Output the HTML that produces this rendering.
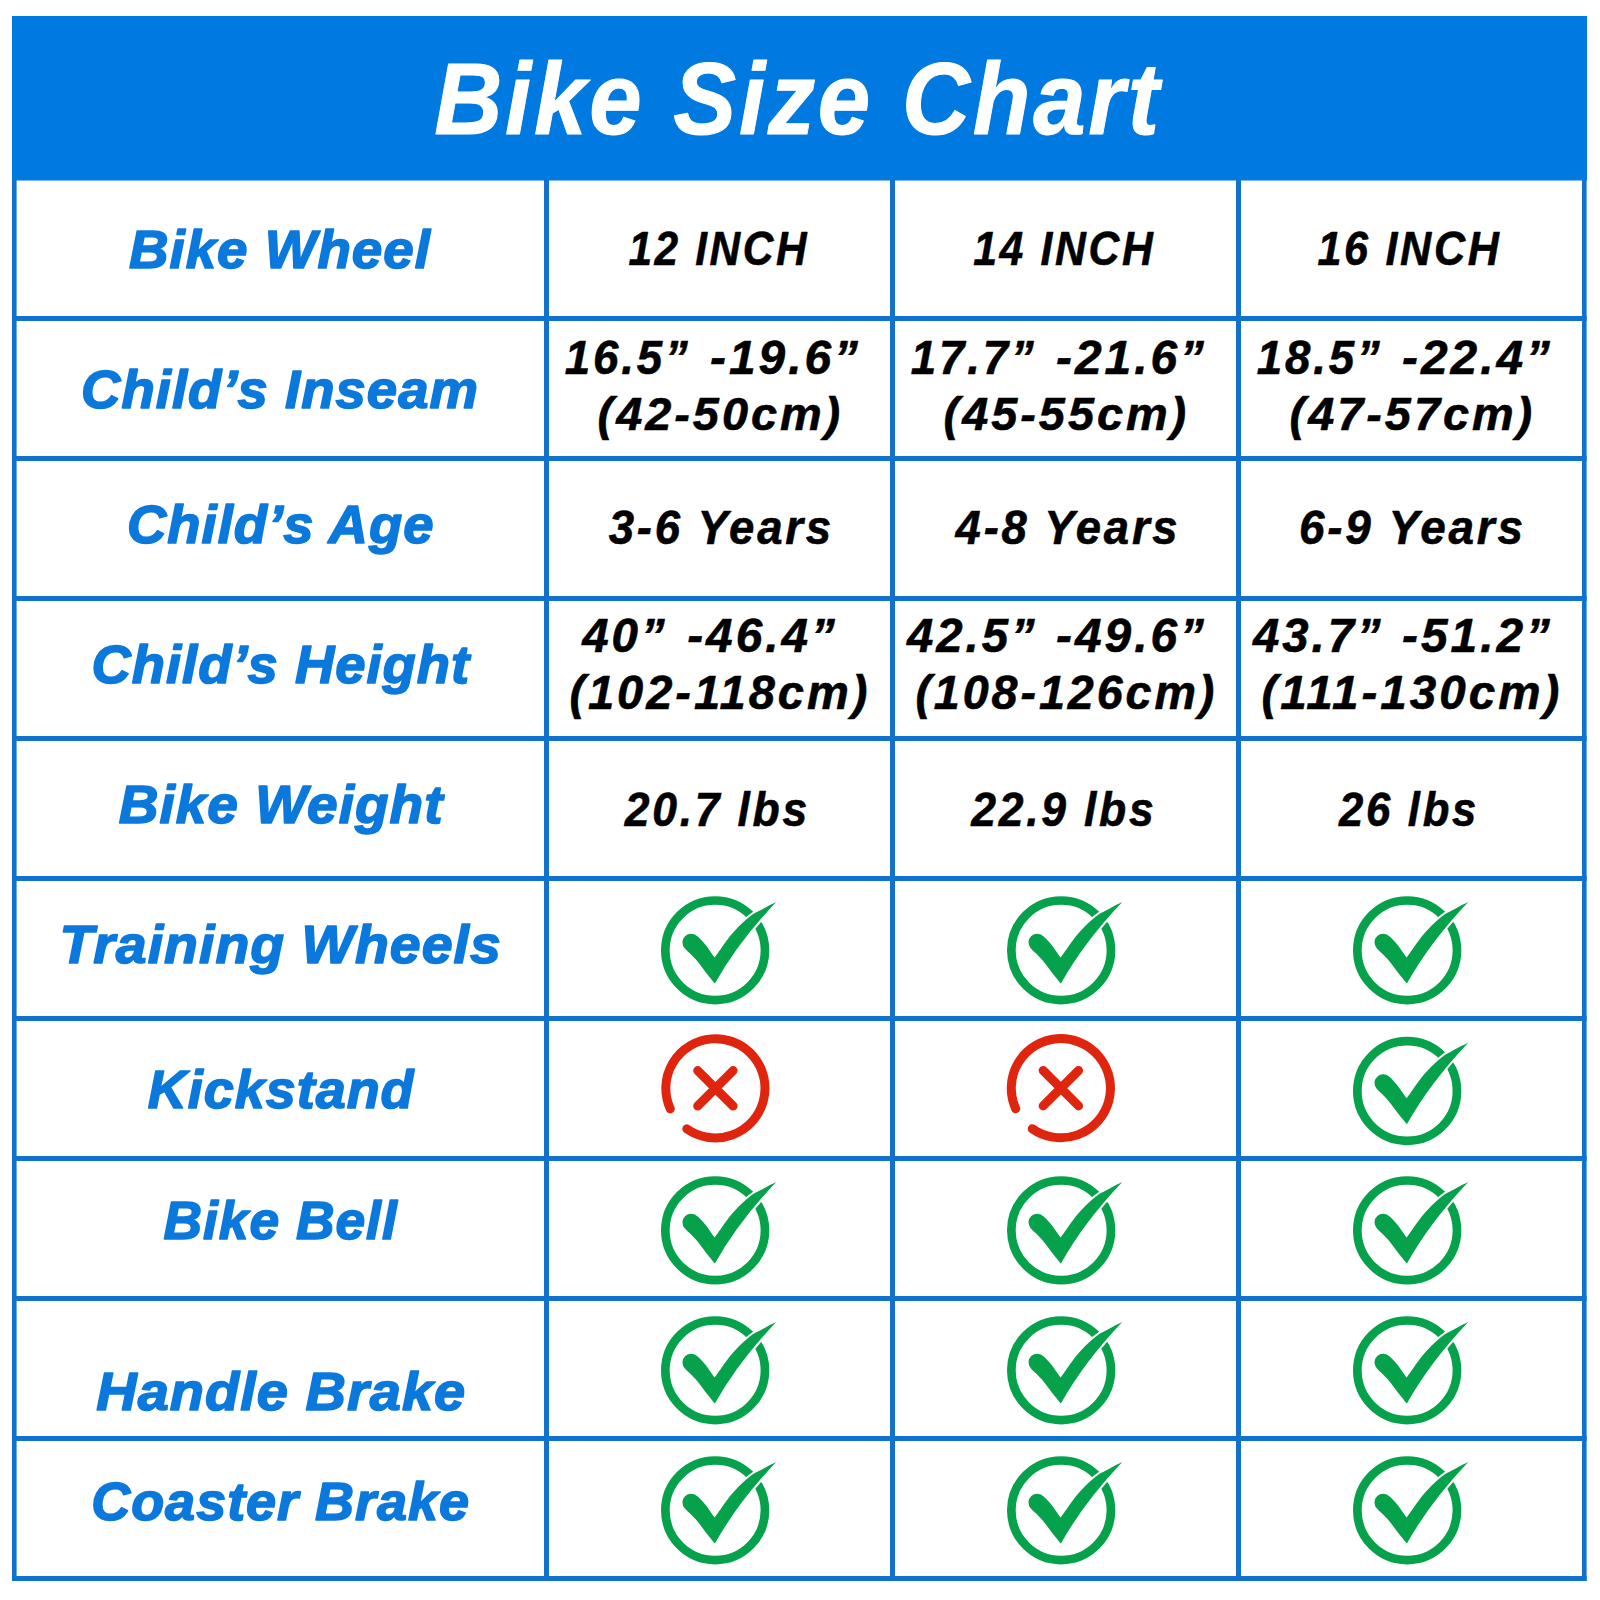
<!DOCTYPE html><html><head><meta charset="utf-8"><title>Bike Size Chart</title>
<style>html,body{margin:0;padding:0;background:#fff;width:1600px;height:1600px;overflow:hidden}svg{display:block}text{font-family:"Liberation Sans",Arial,sans-serif;font-weight:bold;font-style:italic}</style></head><body>
<svg width="1600" height="1600" viewBox="0 0 1600 1600">
<rect width="1600" height="1600" fill="#fff"/>
<rect x="12" y="16" width="1575" height="164.5" fill="#0079e1"/>
<g fill="#1172cd">
<rect x="12" y="180" width="4.6" height="1401"/>
<rect x="544" y="180" width="5" height="1401"/>
<rect x="890" y="180" width="5" height="1401"/>
<rect x="1236" y="180" width="5" height="1401"/>
<rect x="1582" y="180" width="4.6" height="1401"/>
<rect x="12" y="316" width="1574.6" height="5"/>
<rect x="12" y="456" width="1574.6" height="5"/>
<rect x="12" y="596" width="1574.6" height="5"/>
<rect x="12" y="736" width="1574.6" height="5"/>
<rect x="12" y="876" width="1574.6" height="5"/>
<rect x="12" y="1016" width="1574.6" height="5"/>
<rect x="12" y="1156" width="1574.6" height="5"/>
<rect x="12" y="1296" width="1574.6" height="5"/>
<rect x="12" y="1436" width="1574.6" height="5"/>
<rect x="12" y="1576" width="1574.6" height="5"/>
</g>
<g transform="translate(715.15 950.30)">
<circle r="49.8" fill="none" stroke="#06a14b" stroke-width="8.7"/>
<path d="M61.10,-48.30 C59.75,-47.65 55.82,-45.87 53.00,-44.40 C50.18,-42.93 46.75,-40.90 44.20,-39.50 C41.65,-38.10 39.88,-37.45 37.70,-36.00 C35.52,-34.55 33.30,-32.68 31.10,-30.80 C28.90,-28.92 26.68,-26.88 24.50,-24.70 C22.32,-22.52 20.15,-20.18 18.00,-17.70 C15.85,-15.22 13.65,-12.50 11.60,-9.80 C9.55,-7.10 7.71,-4.35 5.70,-1.50 C3.69,1.35 0.58,5.83 -0.45,7.30 C-1.24,6.20 -3.79,2.68 -5.20,0.70 C-6.61,-1.28 -7.65,-2.97 -8.90,-4.60 C-10.15,-6.23 -11.27,-7.55 -12.70,-9.10 C-14.13,-10.65 -16.70,-13.10 -17.50,-13.90 A8.6,8.6 0 0 0 -30.3,-1.9 C-28.60,-0.22 -22.73,5.33 -20.10,8.20 C-17.47,11.07 -16.37,12.87 -14.50,15.30 C-12.63,17.73 -10.77,20.42 -8.90,22.80 C-7.03,25.18 -4.74,27.85 -3.30,29.60 C-1.86,31.35 -0.76,32.68 -0.25,33.30 Q22.4,-7.5 61.1,-48.3 Z" fill="#06a14b" stroke="#fff" stroke-width="4" stroke-linejoin="round" paint-order="stroke"/>
</g>
<g transform="translate(715.15 1230.30)">
<circle r="49.8" fill="none" stroke="#06a14b" stroke-width="8.7"/>
<path d="M61.10,-48.30 C59.75,-47.65 55.82,-45.87 53.00,-44.40 C50.18,-42.93 46.75,-40.90 44.20,-39.50 C41.65,-38.10 39.88,-37.45 37.70,-36.00 C35.52,-34.55 33.30,-32.68 31.10,-30.80 C28.90,-28.92 26.68,-26.88 24.50,-24.70 C22.32,-22.52 20.15,-20.18 18.00,-17.70 C15.85,-15.22 13.65,-12.50 11.60,-9.80 C9.55,-7.10 7.71,-4.35 5.70,-1.50 C3.69,1.35 0.58,5.83 -0.45,7.30 C-1.24,6.20 -3.79,2.68 -5.20,0.70 C-6.61,-1.28 -7.65,-2.97 -8.90,-4.60 C-10.15,-6.23 -11.27,-7.55 -12.70,-9.10 C-14.13,-10.65 -16.70,-13.10 -17.50,-13.90 A8.6,8.6 0 0 0 -30.3,-1.9 C-28.60,-0.22 -22.73,5.33 -20.10,8.20 C-17.47,11.07 -16.37,12.87 -14.50,15.30 C-12.63,17.73 -10.77,20.42 -8.90,22.80 C-7.03,25.18 -4.74,27.85 -3.30,29.60 C-1.86,31.35 -0.76,32.68 -0.25,33.30 Q22.4,-7.5 61.1,-48.3 Z" fill="#06a14b" stroke="#fff" stroke-width="4" stroke-linejoin="round" paint-order="stroke"/>
</g>
<g transform="translate(715.15 1370.30)">
<circle r="49.8" fill="none" stroke="#06a14b" stroke-width="8.7"/>
<path d="M61.10,-48.30 C59.75,-47.65 55.82,-45.87 53.00,-44.40 C50.18,-42.93 46.75,-40.90 44.20,-39.50 C41.65,-38.10 39.88,-37.45 37.70,-36.00 C35.52,-34.55 33.30,-32.68 31.10,-30.80 C28.90,-28.92 26.68,-26.88 24.50,-24.70 C22.32,-22.52 20.15,-20.18 18.00,-17.70 C15.85,-15.22 13.65,-12.50 11.60,-9.80 C9.55,-7.10 7.71,-4.35 5.70,-1.50 C3.69,1.35 0.58,5.83 -0.45,7.30 C-1.24,6.20 -3.79,2.68 -5.20,0.70 C-6.61,-1.28 -7.65,-2.97 -8.90,-4.60 C-10.15,-6.23 -11.27,-7.55 -12.70,-9.10 C-14.13,-10.65 -16.70,-13.10 -17.50,-13.90 A8.6,8.6 0 0 0 -30.3,-1.9 C-28.60,-0.22 -22.73,5.33 -20.10,8.20 C-17.47,11.07 -16.37,12.87 -14.50,15.30 C-12.63,17.73 -10.77,20.42 -8.90,22.80 C-7.03,25.18 -4.74,27.85 -3.30,29.60 C-1.86,31.35 -0.76,32.68 -0.25,33.30 Q22.4,-7.5 61.1,-48.3 Z" fill="#06a14b" stroke="#fff" stroke-width="4" stroke-linejoin="round" paint-order="stroke"/>
</g>
<g transform="translate(715.15 1510.30)">
<circle r="49.8" fill="none" stroke="#06a14b" stroke-width="8.7"/>
<path d="M61.10,-48.30 C59.75,-47.65 55.82,-45.87 53.00,-44.40 C50.18,-42.93 46.75,-40.90 44.20,-39.50 C41.65,-38.10 39.88,-37.45 37.70,-36.00 C35.52,-34.55 33.30,-32.68 31.10,-30.80 C28.90,-28.92 26.68,-26.88 24.50,-24.70 C22.32,-22.52 20.15,-20.18 18.00,-17.70 C15.85,-15.22 13.65,-12.50 11.60,-9.80 C9.55,-7.10 7.71,-4.35 5.70,-1.50 C3.69,1.35 0.58,5.83 -0.45,7.30 C-1.24,6.20 -3.79,2.68 -5.20,0.70 C-6.61,-1.28 -7.65,-2.97 -8.90,-4.60 C-10.15,-6.23 -11.27,-7.55 -12.70,-9.10 C-14.13,-10.65 -16.70,-13.10 -17.50,-13.90 A8.6,8.6 0 0 0 -30.3,-1.9 C-28.60,-0.22 -22.73,5.33 -20.10,8.20 C-17.47,11.07 -16.37,12.87 -14.50,15.30 C-12.63,17.73 -10.77,20.42 -8.90,22.80 C-7.03,25.18 -4.74,27.85 -3.30,29.60 C-1.86,31.35 -0.76,32.68 -0.25,33.30 Q22.4,-7.5 61.1,-48.3 Z" fill="#06a14b" stroke="#fff" stroke-width="4" stroke-linejoin="round" paint-order="stroke"/>
</g>
<g transform="translate(1061.15 950.30)">
<circle r="49.8" fill="none" stroke="#06a14b" stroke-width="8.7"/>
<path d="M61.10,-48.30 C59.75,-47.65 55.82,-45.87 53.00,-44.40 C50.18,-42.93 46.75,-40.90 44.20,-39.50 C41.65,-38.10 39.88,-37.45 37.70,-36.00 C35.52,-34.55 33.30,-32.68 31.10,-30.80 C28.90,-28.92 26.68,-26.88 24.50,-24.70 C22.32,-22.52 20.15,-20.18 18.00,-17.70 C15.85,-15.22 13.65,-12.50 11.60,-9.80 C9.55,-7.10 7.71,-4.35 5.70,-1.50 C3.69,1.35 0.58,5.83 -0.45,7.30 C-1.24,6.20 -3.79,2.68 -5.20,0.70 C-6.61,-1.28 -7.65,-2.97 -8.90,-4.60 C-10.15,-6.23 -11.27,-7.55 -12.70,-9.10 C-14.13,-10.65 -16.70,-13.10 -17.50,-13.90 A8.6,8.6 0 0 0 -30.3,-1.9 C-28.60,-0.22 -22.73,5.33 -20.10,8.20 C-17.47,11.07 -16.37,12.87 -14.50,15.30 C-12.63,17.73 -10.77,20.42 -8.90,22.80 C-7.03,25.18 -4.74,27.85 -3.30,29.60 C-1.86,31.35 -0.76,32.68 -0.25,33.30 Q22.4,-7.5 61.1,-48.3 Z" fill="#06a14b" stroke="#fff" stroke-width="4" stroke-linejoin="round" paint-order="stroke"/>
</g>
<g transform="translate(1061.15 1230.30)">
<circle r="49.8" fill="none" stroke="#06a14b" stroke-width="8.7"/>
<path d="M61.10,-48.30 C59.75,-47.65 55.82,-45.87 53.00,-44.40 C50.18,-42.93 46.75,-40.90 44.20,-39.50 C41.65,-38.10 39.88,-37.45 37.70,-36.00 C35.52,-34.55 33.30,-32.68 31.10,-30.80 C28.90,-28.92 26.68,-26.88 24.50,-24.70 C22.32,-22.52 20.15,-20.18 18.00,-17.70 C15.85,-15.22 13.65,-12.50 11.60,-9.80 C9.55,-7.10 7.71,-4.35 5.70,-1.50 C3.69,1.35 0.58,5.83 -0.45,7.30 C-1.24,6.20 -3.79,2.68 -5.20,0.70 C-6.61,-1.28 -7.65,-2.97 -8.90,-4.60 C-10.15,-6.23 -11.27,-7.55 -12.70,-9.10 C-14.13,-10.65 -16.70,-13.10 -17.50,-13.90 A8.6,8.6 0 0 0 -30.3,-1.9 C-28.60,-0.22 -22.73,5.33 -20.10,8.20 C-17.47,11.07 -16.37,12.87 -14.50,15.30 C-12.63,17.73 -10.77,20.42 -8.90,22.80 C-7.03,25.18 -4.74,27.85 -3.30,29.60 C-1.86,31.35 -0.76,32.68 -0.25,33.30 Q22.4,-7.5 61.1,-48.3 Z" fill="#06a14b" stroke="#fff" stroke-width="4" stroke-linejoin="round" paint-order="stroke"/>
</g>
<g transform="translate(1061.15 1370.30)">
<circle r="49.8" fill="none" stroke="#06a14b" stroke-width="8.7"/>
<path d="M61.10,-48.30 C59.75,-47.65 55.82,-45.87 53.00,-44.40 C50.18,-42.93 46.75,-40.90 44.20,-39.50 C41.65,-38.10 39.88,-37.45 37.70,-36.00 C35.52,-34.55 33.30,-32.68 31.10,-30.80 C28.90,-28.92 26.68,-26.88 24.50,-24.70 C22.32,-22.52 20.15,-20.18 18.00,-17.70 C15.85,-15.22 13.65,-12.50 11.60,-9.80 C9.55,-7.10 7.71,-4.35 5.70,-1.50 C3.69,1.35 0.58,5.83 -0.45,7.30 C-1.24,6.20 -3.79,2.68 -5.20,0.70 C-6.61,-1.28 -7.65,-2.97 -8.90,-4.60 C-10.15,-6.23 -11.27,-7.55 -12.70,-9.10 C-14.13,-10.65 -16.70,-13.10 -17.50,-13.90 A8.6,8.6 0 0 0 -30.3,-1.9 C-28.60,-0.22 -22.73,5.33 -20.10,8.20 C-17.47,11.07 -16.37,12.87 -14.50,15.30 C-12.63,17.73 -10.77,20.42 -8.90,22.80 C-7.03,25.18 -4.74,27.85 -3.30,29.60 C-1.86,31.35 -0.76,32.68 -0.25,33.30 Q22.4,-7.5 61.1,-48.3 Z" fill="#06a14b" stroke="#fff" stroke-width="4" stroke-linejoin="round" paint-order="stroke"/>
</g>
<g transform="translate(1061.15 1510.30)">
<circle r="49.8" fill="none" stroke="#06a14b" stroke-width="8.7"/>
<path d="M61.10,-48.30 C59.75,-47.65 55.82,-45.87 53.00,-44.40 C50.18,-42.93 46.75,-40.90 44.20,-39.50 C41.65,-38.10 39.88,-37.45 37.70,-36.00 C35.52,-34.55 33.30,-32.68 31.10,-30.80 C28.90,-28.92 26.68,-26.88 24.50,-24.70 C22.32,-22.52 20.15,-20.18 18.00,-17.70 C15.85,-15.22 13.65,-12.50 11.60,-9.80 C9.55,-7.10 7.71,-4.35 5.70,-1.50 C3.69,1.35 0.58,5.83 -0.45,7.30 C-1.24,6.20 -3.79,2.68 -5.20,0.70 C-6.61,-1.28 -7.65,-2.97 -8.90,-4.60 C-10.15,-6.23 -11.27,-7.55 -12.70,-9.10 C-14.13,-10.65 -16.70,-13.10 -17.50,-13.90 A8.6,8.6 0 0 0 -30.3,-1.9 C-28.60,-0.22 -22.73,5.33 -20.10,8.20 C-17.47,11.07 -16.37,12.87 -14.50,15.30 C-12.63,17.73 -10.77,20.42 -8.90,22.80 C-7.03,25.18 -4.74,27.85 -3.30,29.60 C-1.86,31.35 -0.76,32.68 -0.25,33.30 Q22.4,-7.5 61.1,-48.3 Z" fill="#06a14b" stroke="#fff" stroke-width="4" stroke-linejoin="round" paint-order="stroke"/>
</g>
<g transform="translate(1407.15 950.30)">
<circle r="49.8" fill="none" stroke="#06a14b" stroke-width="8.7"/>
<path d="M61.10,-48.30 C59.75,-47.65 55.82,-45.87 53.00,-44.40 C50.18,-42.93 46.75,-40.90 44.20,-39.50 C41.65,-38.10 39.88,-37.45 37.70,-36.00 C35.52,-34.55 33.30,-32.68 31.10,-30.80 C28.90,-28.92 26.68,-26.88 24.50,-24.70 C22.32,-22.52 20.15,-20.18 18.00,-17.70 C15.85,-15.22 13.65,-12.50 11.60,-9.80 C9.55,-7.10 7.71,-4.35 5.70,-1.50 C3.69,1.35 0.58,5.83 -0.45,7.30 C-1.24,6.20 -3.79,2.68 -5.20,0.70 C-6.61,-1.28 -7.65,-2.97 -8.90,-4.60 C-10.15,-6.23 -11.27,-7.55 -12.70,-9.10 C-14.13,-10.65 -16.70,-13.10 -17.50,-13.90 A8.6,8.6 0 0 0 -30.3,-1.9 C-28.60,-0.22 -22.73,5.33 -20.10,8.20 C-17.47,11.07 -16.37,12.87 -14.50,15.30 C-12.63,17.73 -10.77,20.42 -8.90,22.80 C-7.03,25.18 -4.74,27.85 -3.30,29.60 C-1.86,31.35 -0.76,32.68 -0.25,33.30 Q22.4,-7.5 61.1,-48.3 Z" fill="#06a14b" stroke="#fff" stroke-width="4" stroke-linejoin="round" paint-order="stroke"/>
</g>
<g transform="translate(1407.15 1230.30)">
<circle r="49.8" fill="none" stroke="#06a14b" stroke-width="8.7"/>
<path d="M61.10,-48.30 C59.75,-47.65 55.82,-45.87 53.00,-44.40 C50.18,-42.93 46.75,-40.90 44.20,-39.50 C41.65,-38.10 39.88,-37.45 37.70,-36.00 C35.52,-34.55 33.30,-32.68 31.10,-30.80 C28.90,-28.92 26.68,-26.88 24.50,-24.70 C22.32,-22.52 20.15,-20.18 18.00,-17.70 C15.85,-15.22 13.65,-12.50 11.60,-9.80 C9.55,-7.10 7.71,-4.35 5.70,-1.50 C3.69,1.35 0.58,5.83 -0.45,7.30 C-1.24,6.20 -3.79,2.68 -5.20,0.70 C-6.61,-1.28 -7.65,-2.97 -8.90,-4.60 C-10.15,-6.23 -11.27,-7.55 -12.70,-9.10 C-14.13,-10.65 -16.70,-13.10 -17.50,-13.90 A8.6,8.6 0 0 0 -30.3,-1.9 C-28.60,-0.22 -22.73,5.33 -20.10,8.20 C-17.47,11.07 -16.37,12.87 -14.50,15.30 C-12.63,17.73 -10.77,20.42 -8.90,22.80 C-7.03,25.18 -4.74,27.85 -3.30,29.60 C-1.86,31.35 -0.76,32.68 -0.25,33.30 Q22.4,-7.5 61.1,-48.3 Z" fill="#06a14b" stroke="#fff" stroke-width="4" stroke-linejoin="round" paint-order="stroke"/>
</g>
<g transform="translate(1407.15 1370.30)">
<circle r="49.8" fill="none" stroke="#06a14b" stroke-width="8.7"/>
<path d="M61.10,-48.30 C59.75,-47.65 55.82,-45.87 53.00,-44.40 C50.18,-42.93 46.75,-40.90 44.20,-39.50 C41.65,-38.10 39.88,-37.45 37.70,-36.00 C35.52,-34.55 33.30,-32.68 31.10,-30.80 C28.90,-28.92 26.68,-26.88 24.50,-24.70 C22.32,-22.52 20.15,-20.18 18.00,-17.70 C15.85,-15.22 13.65,-12.50 11.60,-9.80 C9.55,-7.10 7.71,-4.35 5.70,-1.50 C3.69,1.35 0.58,5.83 -0.45,7.30 C-1.24,6.20 -3.79,2.68 -5.20,0.70 C-6.61,-1.28 -7.65,-2.97 -8.90,-4.60 C-10.15,-6.23 -11.27,-7.55 -12.70,-9.10 C-14.13,-10.65 -16.70,-13.10 -17.50,-13.90 A8.6,8.6 0 0 0 -30.3,-1.9 C-28.60,-0.22 -22.73,5.33 -20.10,8.20 C-17.47,11.07 -16.37,12.87 -14.50,15.30 C-12.63,17.73 -10.77,20.42 -8.90,22.80 C-7.03,25.18 -4.74,27.85 -3.30,29.60 C-1.86,31.35 -0.76,32.68 -0.25,33.30 Q22.4,-7.5 61.1,-48.3 Z" fill="#06a14b" stroke="#fff" stroke-width="4" stroke-linejoin="round" paint-order="stroke"/>
</g>
<g transform="translate(1407.15 1510.30)">
<circle r="49.8" fill="none" stroke="#06a14b" stroke-width="8.7"/>
<path d="M61.10,-48.30 C59.75,-47.65 55.82,-45.87 53.00,-44.40 C50.18,-42.93 46.75,-40.90 44.20,-39.50 C41.65,-38.10 39.88,-37.45 37.70,-36.00 C35.52,-34.55 33.30,-32.68 31.10,-30.80 C28.90,-28.92 26.68,-26.88 24.50,-24.70 C22.32,-22.52 20.15,-20.18 18.00,-17.70 C15.85,-15.22 13.65,-12.50 11.60,-9.80 C9.55,-7.10 7.71,-4.35 5.70,-1.50 C3.69,1.35 0.58,5.83 -0.45,7.30 C-1.24,6.20 -3.79,2.68 -5.20,0.70 C-6.61,-1.28 -7.65,-2.97 -8.90,-4.60 C-10.15,-6.23 -11.27,-7.55 -12.70,-9.10 C-14.13,-10.65 -16.70,-13.10 -17.50,-13.90 A8.6,8.6 0 0 0 -30.3,-1.9 C-28.60,-0.22 -22.73,5.33 -20.10,8.20 C-17.47,11.07 -16.37,12.87 -14.50,15.30 C-12.63,17.73 -10.77,20.42 -8.90,22.80 C-7.03,25.18 -4.74,27.85 -3.30,29.60 C-1.86,31.35 -0.76,32.68 -0.25,33.30 Q22.4,-7.5 61.1,-48.3 Z" fill="#06a14b" stroke="#fff" stroke-width="4" stroke-linejoin="round" paint-order="stroke"/>
</g>
<g transform="translate(715.40 1088.30)" stroke="#e0250f" stroke-width="9" stroke-linecap="round" fill="none">
<path d="M-45.13,20.57 A49.6,49.6 0 1 1 -28.59,40.53"/>
<path d="M-17.7,-17.7 L17.7,17.7 M17.7,-17.7 L-17.7,17.7"/>
</g>
<g transform="translate(1060.85 1088.20)" stroke="#e0250f" stroke-width="9" stroke-linecap="round" fill="none">
<path d="M-45.13,20.57 A49.6,49.6 0 1 1 -28.59,40.53"/>
<path d="M-17.7,-17.7 L17.7,17.7 M17.7,-17.7 L-17.7,17.7"/>
</g>
<g transform="translate(1407.15 1091.00)">
<circle r="49.8" fill="none" stroke="#06a14b" stroke-width="8.7"/>
<path d="M61.10,-48.30 C59.75,-47.65 55.82,-45.87 53.00,-44.40 C50.18,-42.93 46.75,-40.90 44.20,-39.50 C41.65,-38.10 39.88,-37.45 37.70,-36.00 C35.52,-34.55 33.30,-32.68 31.10,-30.80 C28.90,-28.92 26.68,-26.88 24.50,-24.70 C22.32,-22.52 20.15,-20.18 18.00,-17.70 C15.85,-15.22 13.65,-12.50 11.60,-9.80 C9.55,-7.10 7.71,-4.35 5.70,-1.50 C3.69,1.35 0.58,5.83 -0.45,7.30 C-1.24,6.20 -3.79,2.68 -5.20,0.70 C-6.61,-1.28 -7.65,-2.97 -8.90,-4.60 C-10.15,-6.23 -11.27,-7.55 -12.70,-9.10 C-14.13,-10.65 -16.70,-13.10 -17.50,-13.90 A8.6,8.6 0 0 0 -30.3,-1.9 C-28.60,-0.22 -22.73,5.33 -20.10,8.20 C-17.47,11.07 -16.37,12.87 -14.50,15.30 C-12.63,17.73 -10.77,20.42 -8.90,22.80 C-7.03,25.18 -4.74,27.85 -3.30,29.60 C-1.86,31.35 -0.76,32.68 -0.25,33.30 Q22.4,-7.5 61.1,-48.3 Z" fill="#06a14b" stroke="#fff" stroke-width="4" stroke-linejoin="round" paint-order="stroke"/>
</g>
<text x="434.20" y="134.10" font-size="102.62" fill="#fff" letter-spacing="3" stroke="#fff" stroke-width="1.0" stroke-linejoin="round" textLength="727.76" lengthAdjust="spacingAndGlyphs">Bike Size Chart</text>
<text x="128.90" y="268.30" font-size="54.36" fill="#0b78dc" letter-spacing="1" stroke="#0b78dc" stroke-width="1.6" stroke-linejoin="round" textLength="302.05" lengthAdjust="spacingAndGlyphs">Bike Wheel</text>
<text x="81.10" y="408.10" font-size="54.36" fill="#0b78dc" letter-spacing="1" stroke="#0b78dc" stroke-width="1.6" stroke-linejoin="round" textLength="397.85" lengthAdjust="spacingAndGlyphs">Child’s Inseam</text>
<text x="127.00" y="542.95" font-size="54.36" fill="#0b78dc" letter-spacing="1" stroke="#0b78dc" stroke-width="1.6" stroke-linejoin="round" textLength="307.41" lengthAdjust="spacingAndGlyphs">Child’s Age</text>
<text x="91.40" y="683.10" font-size="54.36" fill="#0b78dc" letter-spacing="1" stroke="#0b78dc" stroke-width="1.6" stroke-linejoin="round" textLength="378.82" lengthAdjust="spacingAndGlyphs">Child’s Height</text>
<text x="118.70" y="823.10" font-size="54.36" fill="#0b78dc" letter-spacing="1" stroke="#0b78dc" stroke-width="1.6" stroke-linejoin="round" textLength="324.77" lengthAdjust="spacingAndGlyphs">Bike Weight</text>
<text x="59.40" y="963.10" font-size="54.36" fill="#0b78dc" letter-spacing="1" stroke="#0b78dc" stroke-width="1.6" stroke-linejoin="round" textLength="442.35" lengthAdjust="spacingAndGlyphs">Training Wheels</text>
<text x="147.80" y="1108.10" font-size="54.36" fill="#0b78dc" letter-spacing="1" stroke="#0b78dc" stroke-width="1.6" stroke-linejoin="round" textLength="266.77" lengthAdjust="spacingAndGlyphs">Kickstand</text>
<text x="163.50" y="1239.20" font-size="54.36" fill="#0b78dc" letter-spacing="1" stroke="#0b78dc" stroke-width="1.6" stroke-linejoin="round" textLength="234.21" lengthAdjust="spacingAndGlyphs">Bike Bell</text>
<text x="96.20" y="1409.80" font-size="54.36" fill="#0b78dc" letter-spacing="1" stroke="#0b78dc" stroke-width="1.6" stroke-linejoin="round" textLength="370.01" lengthAdjust="spacingAndGlyphs">Handle Brake</text>
<text x="91.20" y="1519.60" font-size="54.36" fill="#0b78dc" letter-spacing="1" stroke="#0b78dc" stroke-width="1.6" stroke-linejoin="round" textLength="378.90" lengthAdjust="spacingAndGlyphs">Coaster Brake</text>
<text x="628.40" y="264.70" font-size="48.55" fill="#000" letter-spacing="3" stroke="#000" stroke-width="0.6" stroke-linejoin="round" textLength="180.93" lengthAdjust="spacingAndGlyphs">12 INCH</text>
<text x="973.20" y="264.70" font-size="48.55" fill="#000" letter-spacing="3" stroke="#000" stroke-width="0.6" stroke-linejoin="round" textLength="182.19" lengthAdjust="spacingAndGlyphs">14 INCH</text>
<text x="1317.40" y="264.70" font-size="48.55" fill="#000" letter-spacing="3" stroke="#000" stroke-width="0.6" stroke-linejoin="round" textLength="184.17" lengthAdjust="spacingAndGlyphs">16 INCH</text>
<text x="564.80" y="373.60" font-size="47.68" fill="#000" letter-spacing="3" stroke="#000" stroke-width="0.6" stroke-linejoin="round" textLength="125.97" lengthAdjust="spacingAndGlyphs">16.5”</text>
<text x="710.00" y="373.60" font-size="47.68" fill="#000" letter-spacing="3" stroke="#000" stroke-width="0.6" stroke-linejoin="round" textLength="151.06" lengthAdjust="spacingAndGlyphs">-19.6”</text>
<text x="597.60" y="429.60" font-size="47.09" fill="#000" letter-spacing="3" stroke="#000" stroke-width="0.6" stroke-linejoin="round" textLength="245.60" lengthAdjust="spacingAndGlyphs">(42-50cm)</text>
<text x="910.80" y="373.60" font-size="47.68" fill="#000" letter-spacing="3" stroke="#000" stroke-width="0.6" stroke-linejoin="round" textLength="125.97" lengthAdjust="spacingAndGlyphs">17.7”</text>
<text x="1056.00" y="373.60" font-size="47.68" fill="#000" letter-spacing="3" stroke="#000" stroke-width="0.6" stroke-linejoin="round" textLength="151.06" lengthAdjust="spacingAndGlyphs">-21.6”</text>
<text x="943.60" y="429.60" font-size="47.09" fill="#000" letter-spacing="3" stroke="#000" stroke-width="0.6" stroke-linejoin="round" textLength="245.60" lengthAdjust="spacingAndGlyphs">(45-55cm)</text>
<text x="1256.80" y="373.60" font-size="47.68" fill="#000" letter-spacing="3" stroke="#000" stroke-width="0.6" stroke-linejoin="round" textLength="125.97" lengthAdjust="spacingAndGlyphs">18.5”</text>
<text x="1402.00" y="373.60" font-size="47.68" fill="#000" letter-spacing="3" stroke="#000" stroke-width="0.6" stroke-linejoin="round" textLength="151.06" lengthAdjust="spacingAndGlyphs">-22.4”</text>
<text x="1289.60" y="429.60" font-size="47.09" fill="#000" letter-spacing="3" stroke="#000" stroke-width="0.6" stroke-linejoin="round" textLength="245.60" lengthAdjust="spacingAndGlyphs">(47-57cm)</text>
<text x="608.70" y="543.70" font-size="48.55" fill="#000" letter-spacing="3" stroke="#000" stroke-width="0.6" stroke-linejoin="round" textLength="225.28" lengthAdjust="spacingAndGlyphs">3-6 Years</text>
<text x="955.60" y="543.70" font-size="48.55" fill="#000" letter-spacing="3" stroke="#000" stroke-width="0.6" stroke-linejoin="round" textLength="224.86" lengthAdjust="spacingAndGlyphs">4-8 Years</text>
<text x="1298.90" y="543.70" font-size="48.55" fill="#000" letter-spacing="3" stroke="#000" stroke-width="0.6" stroke-linejoin="round" textLength="226.98" lengthAdjust="spacingAndGlyphs">6-9 Years</text>
<text x="582.20" y="652.30" font-size="47.53" fill="#000" letter-spacing="3" stroke="#000" stroke-width="0.6" stroke-linejoin="round" textLength="85.54" lengthAdjust="spacingAndGlyphs">40”</text>
<text x="687.20" y="652.30" font-size="47.53" fill="#000" letter-spacing="3" stroke="#000" stroke-width="0.6" stroke-linejoin="round" textLength="150.76" lengthAdjust="spacingAndGlyphs">-46.4”</text>
<text x="569.40" y="708.60" font-size="47.68" fill="#000" letter-spacing="3" stroke="#000" stroke-width="0.6" stroke-linejoin="round" textLength="300.90" lengthAdjust="spacingAndGlyphs">(102-118cm)</text>
<text x="906.90" y="652.30" font-size="47.53" fill="#000" letter-spacing="3" stroke="#000" stroke-width="0.6" stroke-linejoin="round" textLength="130.72" lengthAdjust="spacingAndGlyphs">42.5”</text>
<text x="1056.00" y="652.30" font-size="47.53" fill="#000" letter-spacing="3" stroke="#000" stroke-width="0.6" stroke-linejoin="round" textLength="151.06" lengthAdjust="spacingAndGlyphs">-49.6”</text>
<text x="915.40" y="708.60" font-size="47.68" fill="#000" letter-spacing="3" stroke="#000" stroke-width="0.6" stroke-linejoin="round" textLength="301.88" lengthAdjust="spacingAndGlyphs">(108-126cm)</text>
<text x="1252.90" y="652.30" font-size="47.53" fill="#000" letter-spacing="3" stroke="#000" stroke-width="0.6" stroke-linejoin="round" textLength="130.72" lengthAdjust="spacingAndGlyphs">43.7”</text>
<text x="1402.00" y="652.30" font-size="47.53" fill="#000" letter-spacing="3" stroke="#000" stroke-width="0.6" stroke-linejoin="round" textLength="151.06" lengthAdjust="spacingAndGlyphs">-51.2”</text>
<text x="1261.40" y="708.60" font-size="47.68" fill="#000" letter-spacing="3" stroke="#000" stroke-width="0.6" stroke-linejoin="round" textLength="300.90" lengthAdjust="spacingAndGlyphs">(111-130cm)</text>
<text x="624.70" y="825.70" font-size="47.97" fill="#000" letter-spacing="3" stroke="#000" stroke-width="0.6" stroke-linejoin="round" textLength="185.27" lengthAdjust="spacingAndGlyphs">20.7 lbs</text>
<text x="971.20" y="825.70" font-size="47.97" fill="#000" letter-spacing="3" stroke="#000" stroke-width="0.6" stroke-linejoin="round" textLength="185.27" lengthAdjust="spacingAndGlyphs">22.9 lbs</text>
<text x="1339.00" y="825.70" font-size="47.97" fill="#000" letter-spacing="3" stroke="#000" stroke-width="0.6" stroke-linejoin="round" textLength="140.05" lengthAdjust="spacingAndGlyphs">26 lbs</text>
</svg></body></html>
